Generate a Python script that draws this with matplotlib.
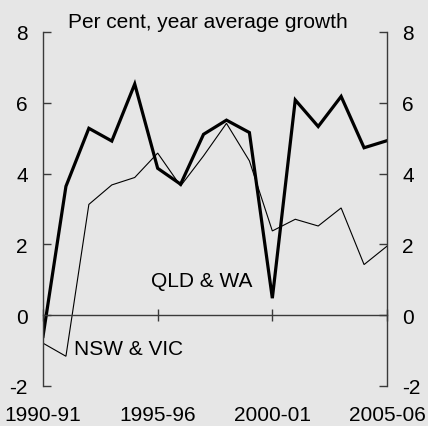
import matplotlib
matplotlib.use("Agg")
import matplotlib.pyplot as plt
import matplotlib.transforms as mtransforms

years = ["1990-91", "1991-92", "1992-93", "1993-94", "1994-95", "1995-96",
         "1996-97", "1997-98", "1998-99", "1999-00", "2000-01", "2001-02",
         "2002-03", "2003-04", "2004-05", "2005-06"]
qld_wa = [-0.6, 3.64, 5.28, 4.92, 6.53, 4.15, 3.70, 5.11, 5.51, 5.16,
          0.48, 6.08, 5.33, 6.18, 4.73, 4.93]
nsw_vic = [-0.79, -1.16, 3.13, 3.68, 3.89, 4.58, 3.65, 4.5, 5.42, 4.36,
           2.38, 2.71, 2.52, 3.03, 1.43, 1.95]
xtick_labels = ["1990-91", "1995-96", "2000-01", "2005-06"]
yticks = [-2, 0, 2, 4, 6, 8]

plt.rcParams['font.family'] = ['Liberation Sans', 'DejaVu Sans']
bg = '#e6e6e6'
axc = '#3a3a3a'
fs = 15

fig = plt.figure(figsize=(4.28, 4.27), dpi=100, facecolor=bg)
ax = fig.add_axes([43/428, 1-387/427, (387-43)/428, (387-33)/427])
ax.set_facecolor(bg)

x = list(range(len(years)))
ax.plot(x, nsw_vic, color='black', lw=0.8, solid_joinstyle='miter')
ax.plot(x, qld_wa, color='black', lw=2.3, solid_joinstyle='miter')

ax.set_xlim(0, len(years) - 1)
ax.set_ylim(-2, 8)

ax.spines['top'].set_visible(False)
ax.spines['bottom'].set_position(('data', 0))
for s in ['left', 'right', 'bottom']:
    ax.spines[s].set_color(axc)
    ax.spines[s].set_linewidth(1.0)

ax.set_yticks(yticks)
ax.set_yticklabels([str(v) for v in yticks])
ax.tick_params(axis='y', direction='in', length=6, width=1.0, color=axc,
               labelsize=fs, pad=11, left=True, right=True,
               labelleft=True, labelright=True)

xt_pos = [years.index(l) for l in xtick_labels]
ax.set_xticks(xt_pos)
ax.set_xticklabels([])
ax.tick_params(axis='x', direction='inout', length=8, width=1.0, color=axc)

trans = mtransforms.blended_transform_factory(ax.transData, fig.transFigure)
for p, l in zip(xt_pos, xtick_labels):
    ax.text(p, 1.5/427, l, transform=trans, ha='center', va='bottom',
            fontsize=fs, color='black')

fig.text(208/428, 1 - 28/427, "Per cent, year average growth",
         ha='center', va='baseline', fontsize=fs)

ax.text(4.71, (316 - 287) / 35.4, "QLD & WA", ha='left', va='baseline', fontsize=fs)
ax.text(1.35, (316 - 355) / 35.4, "NSW & VIC", ha='left', va='baseline', fontsize=fs)

fig.savefig("out.png", dpi=100, facecolor=bg)
